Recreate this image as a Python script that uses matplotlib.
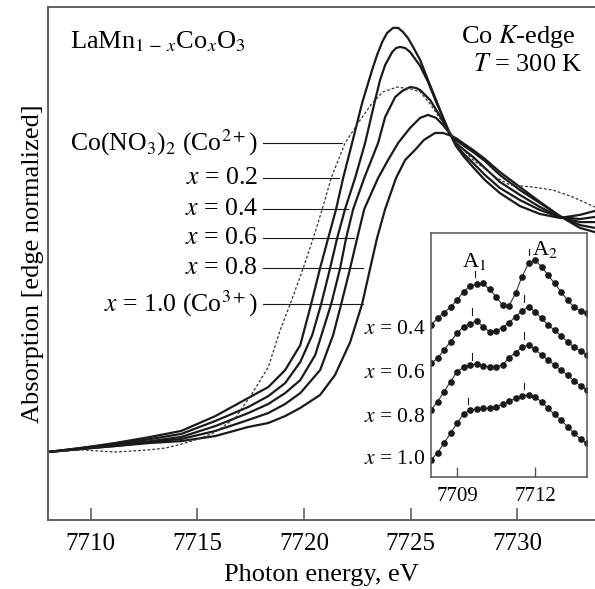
import numpy as np
import matplotlib
matplotlib.use('Agg')
import matplotlib.pyplot as plt

plt.rcParams['font.family'] = ['Liberation Serif', 'DejaVu Serif']
plt.rcParams['mathtext.fontset'] = 'stix'

# ---- main panel: Co K-edge XANES (edge normalized) ----
e_s02 = [7708.0, 7709.52, 7711.16, 7712.80, 7714.25, 7715.85, 7717.39, 7718.33, 7719.12, 7719.83,
         7720.34, 7720.76, 7721.14, 7721.51, 7721.84, 7722.26, 7722.73, 7723.20, 7723.43, 7723.67,
         7723.90, 7724.18, 7724.42, 7724.65, 7724.88, 7725.07, 7725.45, 7725.82, 7726.20, 7726.53,
         7726.81, 7727.13, 7727.51, 7727.93, 7728.49, 7729.19, 7730.13, 7731.07, 7732.00, 7732.94,
         7733.64]
a_s02 = [0.0, 0.017, 0.039, 0.065, 0.091, 0.155, 0.233, 0.280, 0.353, 0.461,
         0.638, 0.793, 0.922, 1.047, 1.181, 1.332, 1.504, 1.647, 1.711, 1.767,
         1.806, 1.828, 1.828, 1.810, 1.784, 1.754, 1.690, 1.603, 1.517, 1.440,
         1.379, 1.319, 1.272, 1.228, 1.172, 1.116, 1.060, 1.026, 1.009, 1.022,
         1.039]

e_s04 = [7708.0, 7709.52, 7711.16, 7712.80, 7714.25, 7715.85, 7717.39, 7718.33, 7719.12, 7719.83,
         7720.39, 7720.81, 7721.23, 7721.56, 7721.93, 7722.40, 7722.87, 7723.34, 7723.57, 7723.81,
         7724.14, 7724.32, 7724.51, 7724.75, 7724.98, 7725.45, 7725.82, 7726.20, 7726.53, 7726.81,
         7727.13, 7727.51, 7727.93, 7728.49, 7729.19, 7730.13, 7731.07, 7732.00, 7732.94, 7733.64]
a_s04 = [0.0, 0.017, 0.034, 0.056, 0.078, 0.134, 0.194, 0.241, 0.297, 0.388,
         0.504, 0.638, 0.793, 0.922, 1.047, 1.181, 1.332, 1.517, 1.603, 1.668,
         1.724, 1.741, 1.746, 1.741, 1.724, 1.664, 1.595, 1.509, 1.440, 1.379,
         1.323, 1.284, 1.246, 1.194, 1.138, 1.086, 1.043, 1.013, 1.004, 1.013]

e_s06 = [7708.0, 7709.52, 7711.16, 7712.80, 7714.25, 7715.85, 7717.39, 7718.33, 7719.12, 7719.83,
         7720.53, 7721.28, 7721.70, 7721.98, 7722.31, 7722.83, 7723.48, 7723.81, 7724.28, 7724.61,
         7724.98, 7725.26, 7725.45, 7725.92, 7726.38, 7726.81, 7727.13, 7727.51, 7727.93, 7728.49,
         7729.19, 7730.13, 7731.07, 7732.00, 7732.94, 7733.64]
a_s06 = [0.0, 0.013, 0.030, 0.047, 0.065, 0.112, 0.168, 0.207, 0.254, 0.310,
         0.418, 0.638, 0.793, 0.922, 1.047, 1.181, 1.332, 1.444, 1.530, 1.556,
         1.573, 1.569, 1.560, 1.517, 1.448, 1.379, 1.332, 1.302, 1.272, 1.224,
         1.164, 1.108, 1.056, 1.013, 0.991, 0.991]

e_s08 = [7708.0, 7709.52, 7711.16, 7712.80, 7714.25, 7715.85, 7717.39, 7718.33, 7719.12, 7719.83,
         7720.76, 7721.37, 7721.75, 7722.17, 7722.50, 7722.83, 7723.48, 7723.95, 7724.42, 7724.98,
         7725.45, 7725.82, 7726.20, 7726.53, 7726.81, 7727.13, 7727.51, 7727.93, 7728.49, 7729.19,
         7730.13, 7731.07, 7732.00, 7732.94, 7733.64]
a_s08 = [0.0, 0.013, 0.026, 0.043, 0.056, 0.091, 0.138, 0.168, 0.207, 0.254,
         0.353, 0.504, 0.638, 0.793, 0.922, 1.047, 1.181, 1.259, 1.332, 1.397,
         1.440, 1.453, 1.440, 1.409, 1.375, 1.345, 1.319, 1.293, 1.254, 1.194,
         1.129, 1.073, 1.017, 0.978, 0.966]

e_s10 = [7708.0, 7709.52, 7711.16, 7712.80, 7714.25, 7715.85, 7717.39, 7718.33, 7719.12, 7719.83,
         7720.76, 7721.46, 7722.17, 7722.73, 7723.11, 7723.43, 7723.81, 7724.32, 7724.75, 7725.21,
         7725.63, 7726.15, 7726.53, 7726.81, 7727.13, 7727.51, 7727.93, 7728.49, 7729.19, 7730.13,
         7731.07, 7732.00, 7732.94, 7733.64]
a_s10 = [0.0, 0.013, 0.026, 0.039, 0.047, 0.069, 0.108, 0.125, 0.155, 0.190,
         0.246, 0.332, 0.474, 0.638, 0.793, 0.922, 1.047, 1.181, 1.259, 1.302,
         1.345, 1.375, 1.375, 1.366, 1.353, 1.328, 1.302, 1.263, 1.207, 1.142,
         1.078, 1.017, 0.966, 0.948]

e_ref = [7708.0, 7709.57, 7710.46, 7711.16, 7712.71, 7713.50, 7714.25, 7715.05, 7715.85, 7716.78,
         7717.53, 7718.33, 7718.89, 7719.36, 7719.97, 7720.44, 7720.86, 7721.28, 7721.93, 7722.64,
         7723.20, 7723.71, 7724.37, 7724.98, 7725.45, 7725.92, 7726.53, 7727.18, 7727.93, 7729.05,
         7729.66, 7730.74, 7731.68, 7732.61, 7733.64]
a_ref = [0.0, 0.009, 0.004, 0.0, 0.009, 0.017, 0.034, 0.056, 0.086, 0.147,
         0.246, 0.366, 0.526, 0.638, 0.793, 0.922, 1.047, 1.181, 1.332, 1.431,
         1.504, 1.552, 1.573, 1.565, 1.552, 1.500, 1.418, 1.332, 1.259, 1.181,
         1.151, 1.142, 1.129, 1.099, 1.056]

labels = [r"Co(NO$_3$)$_2$ (Co$^{2+}$)", r"$x$ = 0.2", r"$x$ = 0.4",
          r"$x$ = 0.6", r"$x$ = 0.8", r"$x$ = 1.0 (Co$^{3+}$)"]
label_y = [1.332, 1.181, 1.047, 0.922, 0.793, 0.638]
label_end = [7721.79, 7721.65, 7722.07, 7722.36, 7722.78, 7722.78]

# ---- inset: pre-edge region ----
e_pre = np.arange(7708.0, 7714.01, 0.25)
pre_04 = [152.0, 158.7, 164.3, 169.7, 177.0, 185.3, 191.0, 192.7, 193.7, 187.7, 180.3, 172.0, 171.0,
          183.7, 200.3, 213.7, 217.0, 210.3, 202.0, 193.7, 185.3, 177.0, 169.7, 166.3, 163.7]
pre_06 = [113.7, 118.7, 127.0, 135.3, 143.7, 150.3, 153.0, 156.3, 150.3, 145.3, 146.3, 149.3, 154.3,
          160.3, 166.0, 170.3, 165.3, 158.7, 152.0, 147.0, 141.0, 135.3, 129.7, 126.3, 122.0]
pre_08 = [67.0, 75.3, 85.3, 95.3, 105.3, 109.7, 112.0, 113.0, 111.0, 110.3, 110.3, 112.0, 119.3,
          124.3, 129.7, 132.0, 127.7, 122.0, 117.0, 112.0, 107.0, 102.0, 96.3, 91.0, 87.0]
pre_10 = [17.0, 24.3, 33.7, 43.7, 53.7, 63.0, 67.0, 68.0, 68.7, 68.7, 70.3, 72.7, 76.0,
          78.7, 81.3, 82.0, 79.7, 75.3, 68.7, 62.7, 57.0, 50.3, 43.7, 37.7, 33.7]
pre_labels = [r"$x$ = 0.4", r"$x$ = 0.6", r"$x$ = 0.8", r"$x$ = 1.0"]
# A1 / A2 marks: (energy, bottom, top)
a1_marks = [(7709.70, 200, 206), (7709.57, 162, 169), (7709.57, 117, 124), (7709.44, 73, 79)]
a2_marks = [(7711.75, 222, 228), (7711.57, 175, 182), (7711.57, 138, 145), (7711.57, 88, 94)]

fig = plt.figure(figsize=(5.95, 5.89), dpi=100)
ax = fig.add_axes([48/595, 69/589, 547/595, 513/589])
ink = '#1a1a1a'
for e, a in [(e_s02, a_s02), (e_s04, a_s04), (e_s06, a_s06), (e_s08, a_s08), (e_s10, a_s10)]:
    ax.plot(e, a, color=ink, lw=1.6, solid_joinstyle='round')
ax.plot(e_ref, a_ref, color='#333333', lw=0.9, ls=(0, (2.2, 1.6)))

for txt, y, xe in zip(labels, label_y, label_end):
    ax.text(7717.85, y, txt, ha='right', va='center', fontsize=18.5)
    ax.plot([7718.1, xe], [y, y], color=ink, lw=0.8)

ax.text(7709.05, 1.77, r"LaMn$_{1\,-\,x}$Co$_x$O$_3$", ha='left', va='center', fontsize=19)
ax.text(7732.75, 1.79, r"Co $K$-edge", ha='right', va='center', fontsize=19)
ax.text(7733.05, 1.67, r"$T$ = 300 K", ha='right', va='center', fontsize=19)

ax.set_xlim(7708.0, 7733.65)
ax.set_ylim(-0.293, 1.918)
ax.set_xticks([7710, 7715, 7720, 7725, 7730])
ax.set_yticks([])
ax.tick_params(axis='x', direction='in', length=9, width=1.1, color='#555555',
               labelsize=18, pad=9)
for s in ['left', 'bottom', 'top']:
    ax.spines[s].set_color('#555555')
    ax.spines[s].set_linewidth(1.3)
ax.spines['right'].set_visible(False)
ax.set_xlabel('Photon energy, eV', fontsize=19, labelpad=7)
ax.set_ylabel('Absorption [edge normalized]', fontsize=19, labelpad=3)

# inset
ins = fig.add_axes([431/595, 112/589, 156/595, 244/589])
for vals in [pre_04, pre_06, pre_08, pre_10]:
    ins.plot(e_pre, vals, color='#333333', lw=0.8, marker='o', ms=3.8,
             mfc=ink, mec=ink)
for e, b, t in a1_marks + a2_marks:
    ins.plot([e, e], [b, t], color=ink, lw=0.8)
ins.text(7709.67, 215, r"A$_1$", ha='center', va='center', fontsize=16)
ins.text(7712.37, 227, r"A$_2$", ha='center', va='center', fontsize=16)
ins.set_xlim(7708.0, 7714.0)
ins.set_ylim(0, 244)
ins.set_xticks([7709, 7712])
ins.set_yticks([])
ins.tick_params(axis='x', direction='in', length=7, width=1.0, color='#555555',
                labelsize=15, pad=7)
for s in ins.spines.values():
    s.set_color('#555555')
    s.set_linewidth(1.1)

for txt, yp in zip(pre_labels, [329, 373, 417, 459]):
    fig.text(425/595, 1 - yp/589, txt, ha='right', va='center', fontsize=15.5)

fig.savefig('out.png', dpi=100)
